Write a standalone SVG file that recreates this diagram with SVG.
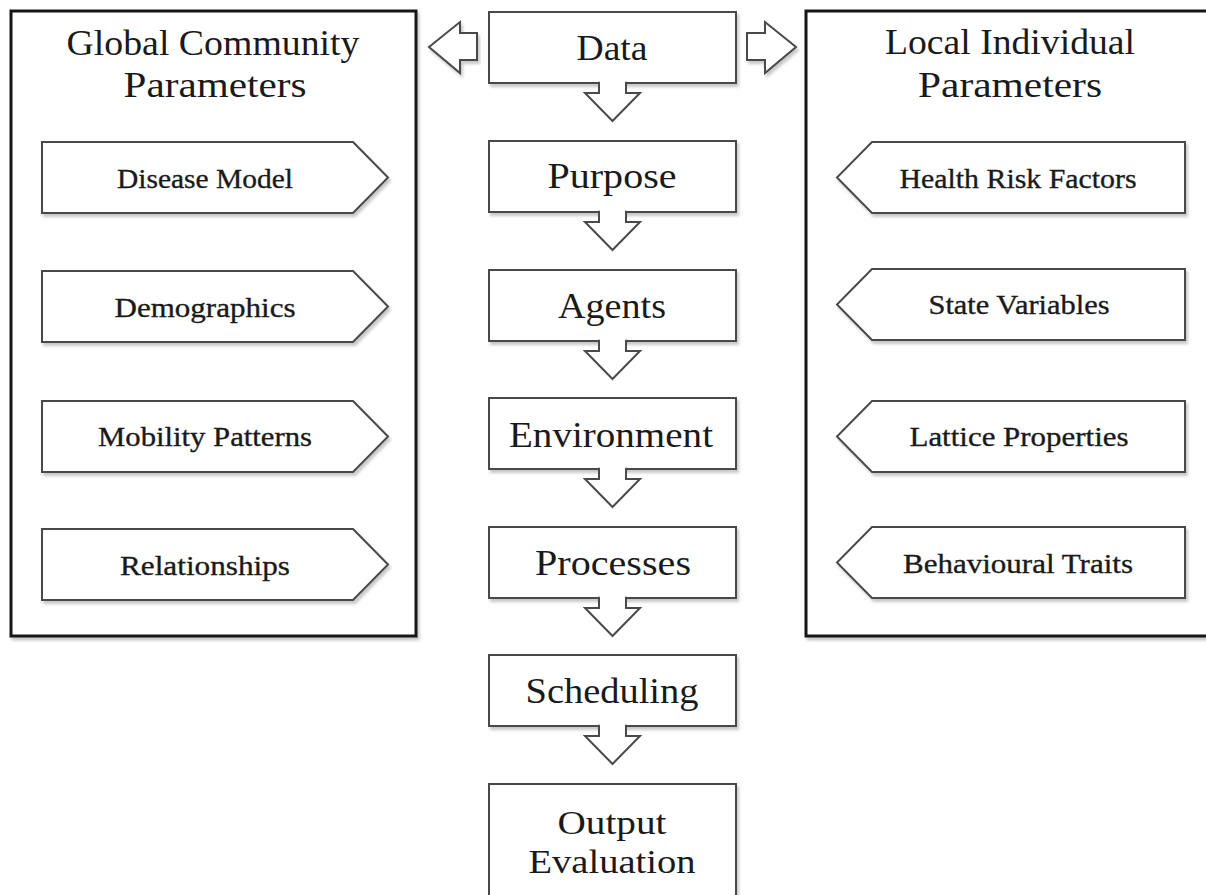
<svg xmlns="http://www.w3.org/2000/svg" width="1206" height="895" viewBox="0 0 1206 895">
<defs>
<filter id="sh" x="-5%" y="-5%" width="112%" height="115%">
<feDropShadow dx="2" dy="3" stdDeviation="1.5" flood-color="#000" flood-opacity="0.22"/>
</filter>
</defs>
<style>
.panel{fill:#fff;stroke:#151515;stroke-width:3;filter:url(#sh)}
.box{fill:#fff;stroke:#4a4a4a;stroke-width:2;filter:url(#sh)}
.arr{fill:#fff;stroke:#4a4a4a;stroke-width:2;stroke-linejoin:miter}
.t{font-family:"Liberation Serif",serif;fill:#1a1a1a;text-anchor:middle}
.title{font-size:35px}
.main{font-size:36px}
.out{font-size:34px}
.item{font-size:28px;stroke:#1a1a1a;stroke-width:0.35}
</style>
<rect width="1206" height="895" fill="#fff"/>

<g id="global-panel">
<rect class="panel" x="11" y="11" width="405" height="625"/>
<text class="t title" x="213" y="55" textLength="293" lengthAdjust="spacingAndGlyphs">Global Community</text>
<text class="t title" x="215" y="97" textLength="183" lengthAdjust="spacingAndGlyphs">Parameters</text>
</g>
<g id="local-panel">
<rect class="panel" x="806" y="11" width="412" height="625"/>
<text class="t title" x="1010" y="54" textLength="250" lengthAdjust="spacingAndGlyphs">Local Individual</text>
<text class="t title" x="1010" y="97" textLength="184" lengthAdjust="spacingAndGlyphs">Parameters</text>
</g>

<g id="disease-model">
<path class="box" d="M42,142 H353 L388,177.5 L353,213 H42 Z"/>
<text class="t item" x="205" y="188" textLength="176" lengthAdjust="spacingAndGlyphs">Disease Model</text>
</g>
<g id="demographics">
<path class="box" d="M42,271 H353 L388,306.5 L353,342 H42 Z"/>
<text class="t item" x="205" y="317" textLength="181" lengthAdjust="spacingAndGlyphs">Demographics</text>
</g>
<g id="mobility-patterns">
<path class="box" d="M42,401 H353 L388,436.5 L353,472 H42 Z"/>
<text class="t item" x="205" y="446" textLength="214" lengthAdjust="spacingAndGlyphs">Mobility Patterns</text>
</g>
<g id="relationships">
<path class="box" d="M42,529 H353 L388,564.5 L353,600 H42 Z"/>
<text class="t item" x="205" y="575" textLength="170" lengthAdjust="spacingAndGlyphs">Relationships</text>
</g>

<g id="health-risk-factors">
<path class="box" d="M1185,142 H872 L837,177.5 L872,213 H1185 Z"/>
<text class="t item" x="1018" y="188" textLength="237" lengthAdjust="spacingAndGlyphs">Health Risk Factors</text>
</g>
<g id="state-variables">
<path class="box" d="M1185,269 H872 L837,304.5 L872,340 H1185 Z"/>
<text class="t item" x="1019" y="314" textLength="181" lengthAdjust="spacingAndGlyphs">State Variables</text>
</g>
<g id="lattice-properties">
<path class="box" d="M1185,401 H872 L837,436.5 L872,472 H1185 Z"/>
<text class="t item" x="1019" y="446" textLength="219" lengthAdjust="spacingAndGlyphs">Lattice Properties</text>
</g>
<g id="behavioural-traits">
<path class="box" d="M1185,527 H872 L837,562.5 L872,598 H1185 Z"/>
<text class="t item" x="1018" y="573" textLength="230" lengthAdjust="spacingAndGlyphs">Behavioural Traits</text>
</g>

<g id="data">
<rect class="box" x="489" y="12" width="247" height="71"/>
<text class="t main" x="612" y="60" textLength="71" lengthAdjust="spacingAndGlyphs">Data</text>
</g>
<g id="purpose">
<rect class="box" x="489" y="141" width="247" height="71"/>
<text class="t main" x="612" y="188" textLength="129" lengthAdjust="spacingAndGlyphs">Purpose</text>
</g>
<g id="agents">
<rect class="box" x="489" y="270" width="247" height="71"/>
<text class="t main" x="612" y="318" textLength="108" lengthAdjust="spacingAndGlyphs">Agents</text>
</g>
<g id="environment">
<rect class="box" x="489" y="398" width="247" height="71"/>
<text class="t main" x="611" y="447" textLength="204" lengthAdjust="spacingAndGlyphs">Environment</text>
</g>
<g id="processes">
<rect class="box" x="489" y="527" width="247" height="71"/>
<text class="t main" x="613" y="575" textLength="156" lengthAdjust="spacingAndGlyphs">Processes</text>
</g>
<g id="scheduling">
<rect class="box" x="489" y="655" width="247" height="71"/>
<text class="t main" x="612" y="703" textLength="173" lengthAdjust="spacingAndGlyphs">Scheduling</text>
</g>
<g id="output-evaluation">
<rect class="box" x="489" y="784" width="247" height="130"/>
<text class="t out" x="612" y="834" textLength="109" lengthAdjust="spacingAndGlyphs">Output</text>
<text class="t out" x="612" y="873" textLength="167" lengthAdjust="spacingAndGlyphs">Evaluation</text>
</g>

<g id="connectors">
<path class="arr" filter="url(#sh)" d="M429,47 L460,22 V33 H477 V60 H460 V73 Z"/>
<path class="arr" filter="url(#sh)" d="M796,47 L765,22 V33 H747 V60 H765 V73 Z"/>
<path class="arr" d="M599,81.8 V93 H585 L612.5,121 L640,93 H626 V81.8"/>
<path class="arr" d="M599,210.8 V222 H585 L612.5,250 L640,222 H626 V210.8"/>
<path class="arr" d="M599,339.8 V351 H585 L612.5,379 L640,351 H626 V339.8"/>
<path class="arr" d="M599,467.8 V479 H585 L612.5,507 L640,479 H626 V467.8"/>
<path class="arr" d="M599,596.8 V608 H585 L612.5,636 L640,608 H626 V596.8"/>
<path class="arr" d="M599,724.8 V736 H585 L612.5,764 L640,736 H626 V724.8"/>
</g>
</svg>
